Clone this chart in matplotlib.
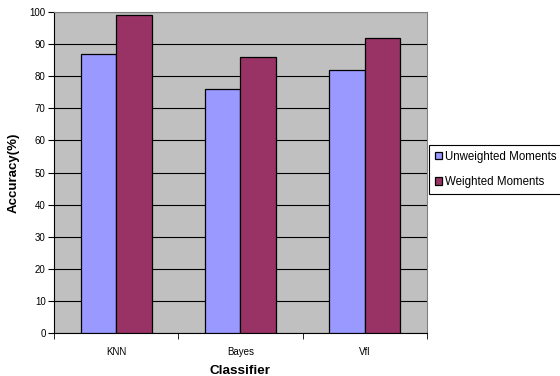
import matplotlib
matplotlib.use('Agg')
import matplotlib.pyplot as plt
import numpy as np

plt.rcParams['font.family'] = ['Liberation Sans', 'DejaVu Sans']

classifiers = ['KNN', 'Bayes', 'Vfl']
unweighted = [87, 76, 82]
weighted = [99, 86, 92]

fig = plt.figure(figsize=(5.6, 3.76), dpi=100)
ax = fig.add_axes([0.0964, 0.1144, 0.666, 0.8536])
ax.set_facecolor('#C0C0C0')

x = np.arange(len(classifiers))
w = 0.285
ax.bar(x - w/2, unweighted, w, color='#9999FF', edgecolor='black', linewidth=0.9,
       label='Unweighted Moments', zorder=3)
ax.bar(x + w/2, weighted, w, color='#993366', edgecolor='black', linewidth=0.9,
       label='Weighted Moments', zorder=3)

ax.set_xlim(-0.5, 2.5)
ax.set_ylim(0, 100)
ax.set_yticks(range(0, 101, 10))
ax.yaxis.grid(True, color='black', linewidth=0.8, zorder=1)
ax.set_axisbelow(True)

ax.set_xticks(x)
ax.set_xticklabels(classifiers)
ax.set_xticks([-0.5, 0.5, 1.5, 2.5], minor=True)
ax.tick_params(axis='x', which='major', length=0, labelsize=7, pad=10)
ax.tick_params(axis='x', which='minor', length=4, direction='out')
ax.tick_params(axis='y', length=4, direction='out', labelsize=7, pad=2)

for s in ['top', 'right']:
    ax.spines[s].set_color('#808080')
for s in ['left', 'bottom']:
    ax.spines[s].set_color('black')

ax.set_xlabel('Classifier', fontsize=9.7, fontweight='bold', labelpad=6)
ax.set_ylabel('Accuracy(%)', fontsize=9.5, fontweight='bold', labelpad=7)

leg = fig.legend(loc='upper left', bbox_to_anchor=(0.766, 0.615), fontsize=8.3,
                 fancybox=False, edgecolor='black', framealpha=1,
                 handlelength=0.65, handleheight=0.65, handletextpad=0.2,
                 borderpad=0.5, labelspacing=1.15, borderaxespad=0)
leg.get_frame().set_linewidth(0.8)

fig.savefig('out.png', dpi=100)
